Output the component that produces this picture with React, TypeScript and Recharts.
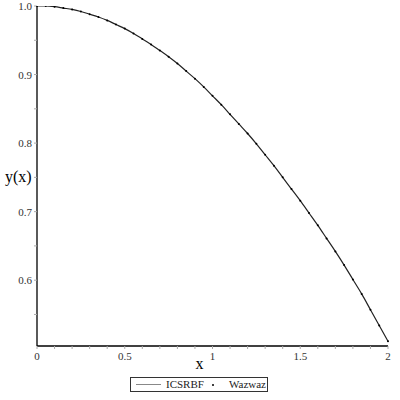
import React from "react";
import {
  ComposedChart,
  Line,
  Scatter,
  XAxis,
  YAxis,
} from "recharts";

// values
const xs = [
  0, 0.05, 0.1, 0.15, 0.2, 0.25, 0.3, 0.35, 0.4, 0.45, 0.5, 0.55, 0.6, 0.65,
  0.7, 0.75, 0.8, 0.85, 0.9, 0.95, 1, 1.05, 1.1, 1.15, 1.2, 1.25, 1.3, 1.35,
  1.4, 1.45, 1.5, 1.55, 1.6, 1.65, 1.7, 1.75, 1.8, 1.85, 1.9, 1.95, 2,
];
const icsrbf = [
  1.0, 1.0, 0.999, 0.997, 0.995, 0.992, 0.988, 0.984, 0.979, 0.973, 0.967,
  0.96, 0.952, 0.944, 0.935, 0.926, 0.916, 0.905, 0.894, 0.882, 0.869, 0.856,
  0.842, 0.828, 0.814, 0.799, 0.783, 0.767, 0.75, 0.733, 0.716, 0.698, 0.68,
  0.661, 0.642, 0.622, 0.601, 0.58, 0.557, 0.534, 0.511,
];
const wazwaz = [
  1.0, 1.0, 0.999, 0.997, 0.995, 0.992, 0.988, 0.984, 0.979, 0.973, 0.967,
  0.96, 0.952, 0.944, 0.935, 0.926, 0.916, 0.905, 0.894, 0.882, 0.869, 0.856,
  0.842, 0.828, 0.814, 0.799, 0.783, 0.767, 0.75, 0.733, 0.716, 0.698, 0.68,
  0.661, 0.642, 0.622, 0.601, 0.58, 0.557, 0.534, 0.511,
];

const xTicks = [
  0, 0.1, 0.2, 0.3, 0.4, 0.5, 0.6, 0.7, 0.8, 0.9, 1, 1.1, 1.2, 1.3, 1.4, 1.5,
  1.6, 1.7, 1.8, 1.9, 2,
];
const xLabels = [0, 0.5, 1, 1.5, 2];
const yTicks = [0.55, 0.6, 0.65, 0.7, 0.75, 0.8, 0.85, 0.9, 0.95, 1.0];
const yLabels = [0.6, 0.7, 0.8, 0.9, 1.0];

const data = xs.map((x, i) => ({ x, icsrbf: icsrbf[i], wazwaz: wazwaz[i] }));

const FONT = "'Liberation Serif', 'DejaVu Serif', serif";

const isIn = (list: number[], v: number) =>
  list.some((t) => Math.abs(t - v) < 1e-6);

const XTick = (props: any) => {
  const { x, y, payload } = props;
  if (!isIn(xLabels, payload.value)) return null;
  return (
    <text x={x} y={y} dy={8} textAnchor="middle" fontSize={11} fontFamily={FONT} fill="#333">
      {String(payload.value)}
    </text>
  );
};

const YTick = (props: any) => {
  const { x, y, payload } = props;
  if (!isIn(yLabels, payload.value)) return null;
  return (
    <text x={x} y={y} dy={4} textAnchor="end" fontSize={11} fontFamily={FONT} fill="#333">
      {payload.value.toFixed(1)}
    </text>
  );
};

const Dot = (props: any) => {
  const { cx, cy } = props;
  if (cx == null || cy == null) return null;
  return <circle cx={cx} cy={cy} r={1} fill="#000" />;
};

export default function App() {
  return (
    <div style={{ position: "absolute", left: 0, top: 0, width: 400, height: 400, background: "#fff" }}>
      <ComposedChart
        width={400}
        height={400}
        data={data}
        margin={{ top: 6, right: 12, left: 0, bottom: 0 }}
      >
        <XAxis
          type="number"
          dataKey="x"
          domain={[0, 2]}
          ticks={xTicks}
          interval={0}
          height={54}
          tickSize={3}
          tickMargin={3}
          tick={<XTick />}
          tickLine={{ stroke: "#aaa" }}
          axisLine={{ stroke: "#000", strokeWidth: 1.3 }}
          label={{
            value: "x",
            position: "insideTop",
            offset: 12,
            dx: -13,
            style: { fontSize: 16, fontFamily: FONT, fill: "#000" },
          }}
        />
        <YAxis
          type="number"
          domain={[0.504, 1.0]}
          ticks={yTicks}
          interval={0}
          width={37}
          tickSize={3}
          tickMargin={2}
          tick={<YTick />}
          tickLine={{ stroke: "#aaa" }}
          axisLine={{ stroke: "#000", strokeWidth: 1.3 }}
          allowDataOverflow
          label={{
            value: "y(x)",
            position: "insideLeft",
            offset: 5,
            angle: 0,
            style: { fontSize: 16, fontFamily: FONT, fill: "#000", textAnchor: "start" },
          }}
        />
        <Line
          type="monotone"
          dataKey="icsrbf"
          stroke="#222"
          strokeWidth={1.2}
          dot={false}
          isAnimationActive={false}
        />
        <Scatter dataKey="wazwaz" shape={<Dot />} isAnimationActive={false} />
      </ComposedChart>
      <div
        style={{
          position: "absolute",
          left: 130,
          top: 377,
          width: 136,
          height: 13,
          border: "1px solid #333",
          fontFamily: FONT,
          fontSize: 11,
          color: "#222",
          lineHeight: "13px",
          boxSizing: "content-box",
        }}
      >
        <span style={{ position: "absolute", left: 5, top: 6, width: 25, borderTop: "1px solid #888" }} />
        <span style={{ position: "absolute", left: 35, top: 0 }}>ICSRBF</span>
        <span style={{ position: "absolute", left: 81, top: 6, width: 2, height: 2, background: "#000", borderRadius: 1 }} />
        <span style={{ position: "absolute", left: 98, top: 0 }}>Wazwaz</span>
      </div>
    </div>
  );
}
